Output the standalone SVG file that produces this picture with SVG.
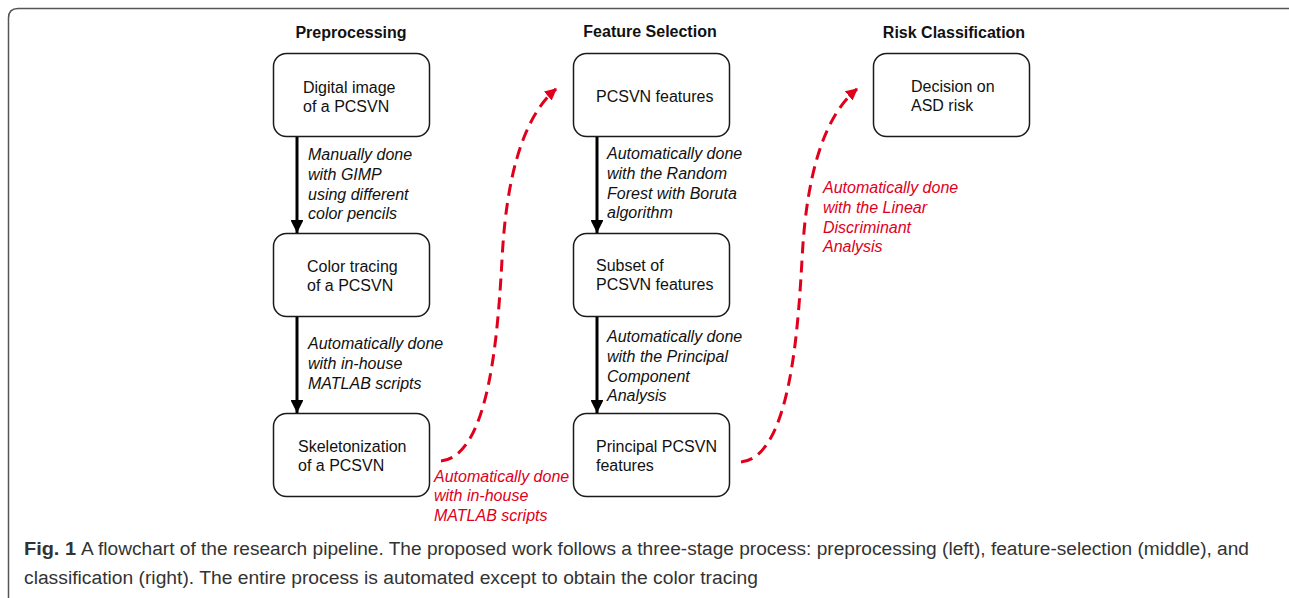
<svg xmlns="http://www.w3.org/2000/svg" width="1289" height="598" viewBox="0 0 1289 598">
<defs>
<style>
.box{fill:#fff;stroke:#1a1a1a;stroke-width:1.5}
.t{font-family:"Liberation Sans",Arial,sans-serif;font-size:16px;fill:#111}
.h{font-family:"Liberation Sans",Arial,sans-serif;font-size:16px;font-weight:bold;fill:#111;text-anchor:middle}
.i{font-family:"Liberation Sans",Arial,sans-serif;font-size:16px;font-style:italic;fill:#111}
.r{font-family:"Liberation Sans",Arial,sans-serif;font-size:16px;font-style:italic;fill:#e0001b}
.cap{font-family:"Liberation Sans Narrow","Liberation Sans",Arial,sans-serif;font-size:18px;fill:#333}
.blk{stroke:#000;stroke-width:3;fill:none}
.red{stroke:#e0001b;stroke-width:3;fill:none;stroke-dasharray:12 7}
</style>
<marker id="ab" viewBox="0 0 10 10" refX="10" refY="5" markerWidth="4.3" markerHeight="4.3" orient="auto" markerUnits="strokeWidth">
<path d="M0,0 L10,5 L0,10 z" fill="#000"/>
</marker>
<marker id="ar" viewBox="0 0 10 10" refX="9" refY="5" markerWidth="4" markerHeight="4" orient="auto" markerUnits="strokeWidth">
<path d="M0,0 L10,5 L0,10 z" fill="#e0001b"/>
</marker>
</defs>
<rect width="1289" height="598" fill="#fff"/>
<path d="M8.5,598 L8.5,18 Q8.5,8.5 18,8.5 L1289,8.5" fill="none" stroke="#555" stroke-width="1.5"/>

<text class="h" x="351" y="38">Preprocessing</text>
<text class="h" x="650" y="37">Feature Selection</text>
<text class="h" x="954" y="38">Risk Classification</text>

<g id="n1"><rect class="box" x="273.5" y="53.5" width="156" height="83" rx="13"/><text class="t" x="303" y="93">Digital image</text><text class="t" x="303" y="112">of a PCSVN</text></g>
<g id="n2"><rect class="box" x="273.5" y="233.5" width="156" height="83" rx="13"/><text class="t" x="307" y="272">Color tracing</text><text class="t" x="307" y="291">of a PCSVN</text></g>
<g id="n3"><rect class="box" x="273.5" y="413.5" width="156" height="83" rx="13"/><text class="t" x="298" y="452">Skeletonization</text><text class="t" x="298" y="471">of a PCSVN</text></g>
<g id="n4"><rect class="box" x="573.5" y="53.5" width="156" height="83" rx="13"/><text class="t" x="596" y="102">PCSVN features</text></g>
<g id="n5"><rect class="box" x="573.5" y="233.5" width="156" height="83" rx="13"/><text class="t" x="596" y="271">Subset of</text><text class="t" x="596" y="290">PCSVN features</text></g>
<g id="n6"><rect class="box" x="573.5" y="413.5" width="156" height="83" rx="13"/><text class="t" x="596" y="452">Principal PCSVN</text><text class="t" x="596" y="471">features</text></g>
<g id="n7"><rect class="box" x="873.5" y="53.5" width="156" height="83" rx="13"/><text class="t" x="911" y="92">Decision on</text><text class="t" x="911" y="111">ASD risk</text></g>

<g id="connectors">
<line class="blk" x1="297" y1="137" x2="297" y2="233" marker-end="url(#ab)"/>
<line class="blk" x1="297" y1="317" x2="297" y2="413" marker-end="url(#ab)"/>
<line class="blk" x1="597" y1="137" x2="597" y2="233" marker-end="url(#ab)"/>
<line class="blk" x1="597" y1="317" x2="597" y2="413" marker-end="url(#ab)"/>
<path class="red" d="M441,461 C490,456 498,330 502,260 C506,180 522,118 556,89" marker-end="url(#ar)"/>
<path class="red" d="M741,462 C790,457 798,330 802,260 C806,180 822,118 857,89" marker-end="url(#ar)"/>
</g>

<g id="labels">
<text class="i" x="308" y="160">Manually done</text>
<text class="i" x="308" y="180">with GIMP</text>
<text class="i" x="308" y="200">using different</text>
<text class="i" x="308" y="219">color pencils</text>

<text class="i" x="308" y="349">Automatically done</text>
<text class="i" x="308" y="369">with in-house</text>
<text class="i" x="308" y="389">MATLAB scripts</text>

<text class="i" x="607" y="159">Automatically done</text>
<text class="i" x="607" y="179">with the Random</text>
<text class="i" x="607" y="199">Forest with Boruta</text>
<text class="i" x="607" y="218">algorithm</text>

<text class="i" x="607" y="342">Automatically done</text>
<text class="i" x="607" y="362">with the Principal</text>
<text class="i" x="607" y="382">Component</text>
<text class="i" x="607" y="401">Analysis</text>

<text class="r" x="434" y="482">Automatically done</text>
<text class="r" x="434" y="501">with in-house</text>
<text class="r" x="434" y="521">MATLAB scripts</text>

<text class="r" x="823" y="193">Automatically done</text>
<text class="r" x="823" y="213">with the Linear</text>
<text class="r" x="823" y="233">Discriminant</text>
<text class="r" x="823" y="252">Analysis</text>
</g>

<g id="caption">
<text class="cap" x="24" y="555" font-weight="bold" textLength="52" lengthAdjust="spacingAndGlyphs">Fig. 1</text>
<text class="cap" x="81" y="555" textLength="1168" lengthAdjust="spacingAndGlyphs">A flowchart of the research pipeline. The proposed work follows a three-stage process: preprocessing (left), feature-selection (middle), and</text>
<text class="cap" x="24" y="584" textLength="734" lengthAdjust="spacingAndGlyphs">classification (right). The entire process is automated except to obtain the color tracing</text>
</g>
</svg>
